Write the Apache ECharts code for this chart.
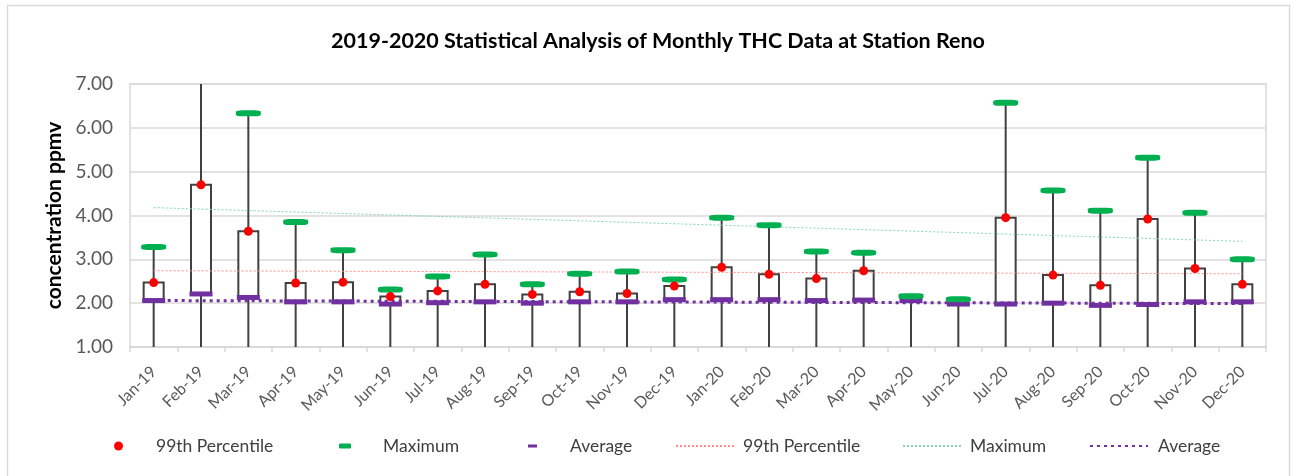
<!DOCTYPE html>
<html>
<head>
<meta charset="utf-8">
<script src="https://cdn.jsdelivr.net/npm/echarts@6/dist/echarts.min.js"></script>
<style>
  html, body { margin: 0; padding: 0; background: #ffffff; }
  #chart { width: 1293px; height: 476px; }
</style>
</head>
<body>
<div id="chart"></div>
<script>
// Monthly THC statistics, station Reno (ppmv)
const months = ['Jan-19', 'Feb-19', 'Mar-19', 'Apr-19', 'May-19', 'Jun-19', 'Jul-19', 'Aug-19',
  'Sep-19', 'Oct-19', 'Nov-19', 'Dec-19', 'Jan-20', 'Feb-20', 'Mar-20', 'Apr-20',
  'May-20', 'Jun-20', 'Jul-20', 'Aug-20', 'Sep-20', 'Oct-20', 'Nov-20', 'Dec-20'];

const percentile99 = [2.47, 4.70, 3.64, 2.46, 2.48, 2.15, 2.28, 2.43, 2.20, 2.26, 2.22, 2.39,
  2.82, 2.66, 2.56, 2.74, null, null, 3.95, 2.64, 2.41, 3.92, 2.79, 2.43];

const maximum = [3.28, 7.80, 6.33, 3.85, 3.21, 2.31, 2.61, 3.11, 2.43, 2.67, 2.72, 2.54,
  3.95, 3.78, 3.18, 3.15, 2.16, 2.09, 6.57, 4.57, 4.11, 5.32, 4.06, 3.00];

const average = [2.06, 2.21, 2.13, 2.03, 2.03, 1.98, 2.01, 2.03, 2.00, 2.03, 2.03, 2.08,
  2.08, 2.08, 2.06, 2.07, 2.06, 1.98, 1.98, 2.00, 1.95, 1.97, 2.03, 2.03];

// Linear trend lines: value at first and last month
const trendP99 = [2.74, 2.67];
const trendMax = [4.18, 3.41];
const trendAvg = [2.06, 1.99];

const Y_MIN = 1;
const Y_MAX = 7;
const Y_STEP = 1;

const FONT = 'Lato, "Liberation Sans", sans-serif';
const AXIS_TEXT = '#595959';
const LEGEND_TEXT = '#404040';
const GRID_COLOR = '#d9d9d9';

const chart = echarts.init(document.getElementById('chart'), null, { renderer: 'canvas' });

const boxData = months.map((m, i) => [i, average[i], percentile99[i] === null ? NaN : percentile99[i], maximum[i]]);

// Whisker from the axis floor up to the maximum, box from average to 99th percentile
function renderBox(params, api) {
  const i = api.value(0);
  const avg = api.value(1);
  const p = api.value(2);
  const mx = api.value(3);
  const top = api.coord([i, mx]);
  const floor = api.coord([i, Y_MIN]);
  const children = [{
    type: 'line',
    shape: { x1: top[0], y1: top[1], x2: top[0], y2: floor[1] },
    style: { stroke: '#404040', lineWidth: 2 }
  }];
  if (!isNaN(p)) {
    const a = api.coord([i, avg]);
    const b = api.coord([i, p]);
    children.push({
      type: 'rect',
      shape: { x: a[0] - 10, y: b[1], width: 20, height: a[1] - b[1] },
      style: { fill: '#ffffff', stroke: '#404040', lineWidth: 2 }
    });
  }
  return { type: 'group', children };
}

const trendLine = (values) => [[months[0], values[0]], [months[months.length - 1], values[1]]];

const legendBase = {
  orient: 'horizontal',
  top: 437,
  padding: 0,
  selectedMode: false,
  formatter: (name) => name.replace(' (trend)', ''),
  textStyle: { fontFamily: FONT, fontSize: 17.5, color: LEGEND_TEXT }
};

const legendText = (pad) => Object.assign({}, legendBase.textStyle, { padding: [0, 0, 0, pad] });
const hiddenSymbol = { color: 'rgba(0,0,0,0)', borderWidth: 0, opacity: 0 };

const option = {
  backgroundColor: '#ffffff',
  animation: false,
  title: {
    text: '2019-2020 Statistical Analysis of Monthly THC Data at Station Reno',
    left: 658,
    textAlign: 'center',
    top: 30,
    padding: 0,
    textStyle: { fontFamily: FONT, fontSize: 21.5, fontWeight: 'bold', color: '#000000' }
  },
  graphic: [{
    type: 'rect',
    silent: true,
    z: -10,
    shape: { x: 7.5, y: 5.5, width: 1282, height: 490 },
    style: { fill: null, stroke: GRID_COLOR, lineWidth: 1.5 }
  }],
  legend: [
    Object.assign({}, legendBase, {
      data: ['99th Percentile'], left: 114, icon: 'circle', itemWidth: 9, itemHeight: 9,
      textStyle: legendText(28)
    }),
    Object.assign({}, legendBase, {
      data: ['Maximum'], left: 339, icon: 'roundRect', itemWidth: 12, itemHeight: 5,
      textStyle: legendText(27)
    }),
    Object.assign({}, legendBase, {
      data: ['Average'], left: 528, icon: 'rect', itemWidth: 9, itemHeight: 3,
      textStyle: legendText(28)
    }),
    Object.assign({}, legendBase, {
      data: [{ name: '99th Percentile (trend)', itemStyle: hiddenSymbol }],
      left: 675, itemWidth: 60, itemHeight: 10,
      textStyle: legendText(2)
    }),
    Object.assign({}, legendBase, {
      data: [{ name: 'Maximum (trend)', itemStyle: hiddenSymbol }],
      left: 902, itemWidth: 60, itemHeight: 10,
      textStyle: legendText(2)
    }),
    Object.assign({}, legendBase, {
      data: [{ name: 'Average (trend)', itemStyle: hiddenSymbol }],
      left: 1089, itemWidth: 58, itemHeight: 10,
      textStyle: legendText(5)
    })
  ],
  grid: {
    left: 130, right: 27, top: 84, bottom: 129,
    show: true, borderColor: GRID_COLOR, borderWidth: 1.5
  },
  xAxis: {
    type: 'category',
    data: months,
    boundaryGap: true,
    axisLine: { lineStyle: { color: GRID_COLOR, width: 1.5 } },
    axisTick: { show: true, length: 5, lineStyle: { color: GRID_COLOR, width: 1.5 } },
    axisLabel: { interval: 0, rotate: 45, margin: 22, fontFamily: FONT, fontSize: 16, color: AXIS_TEXT }
  },
  yAxis: {
    type: 'value',
    min: Y_MIN,
    max: Y_MAX,
    interval: Y_STEP,
    name: 'concentration ppmv',
    nameLocation: 'middle',
    nameGap: 53,
    nameTextStyle: { fontFamily: FONT, fontSize: 21, fontWeight: 'bold', color: '#000000' },
    axisLine: { show: false },
    axisTick: { show: false },
    axisLabel: { formatter: (v) => v.toFixed(2), margin: 17, fontFamily: FONT, fontSize: 19, color: AXIS_TEXT },
    splitLine: { lineStyle: { color: GRID_COLOR, width: 1.5 } }
  },
  series: [
    {
      type: 'custom',
      renderItem: renderBox,
      clip: true,
      encode: { x: 0, y: [1, 2, 3] },
      data: boxData,
      z: 2
    },
    {
      name: '99th Percentile (trend)',
      type: 'line',
      data: trendLine(trendP99),
      symbol: 'none',
      lineStyle: { color: '#ff8c8c', width: 1, type: [2, 2] },
      itemStyle: { color: '#ff8c8c' },
      z: 3
    },
    {
      name: 'Maximum (trend)',
      type: 'line',
      data: trendLine(trendMax),
      symbol: 'none',
      lineStyle: { color: '#86d3bd', width: 1, type: [2, 2] },
      itemStyle: { color: '#86d3bd' },
      z: 3
    },
    {
      name: 'Average (trend)',
      type: 'line',
      data: trendLine(trendAvg),
      symbol: 'none',
      lineStyle: { color: '#7030a0', width: 3, type: [3, 4] },
      itemStyle: { color: '#7030a0' },
      z: 3
    },
    {
      name: 'Average',
      type: 'scatter',
      data: average,
      symbol: 'rect',
      symbolSize: [23, 5],
      itemStyle: { color: '#7030a0', opacity: 1 },
      z: 4
    },
    {
      name: 'Maximum',
      type: 'scatter',
      data: maximum,
      symbol: 'roundRect',
      symbolSize: [25, 6],
      itemStyle: { color: '#00b050', opacity: 1 },
      z: 4
    },
    {
      name: '99th Percentile',
      type: 'scatter',
      data: percentile99,
      symbol: 'circle',
      symbolSize: 9,
      itemStyle: { color: '#ff0000', opacity: 1 },
      z: 5
    }
  ]
};

chart.setOption(option);
</script>
</body>
</html>
